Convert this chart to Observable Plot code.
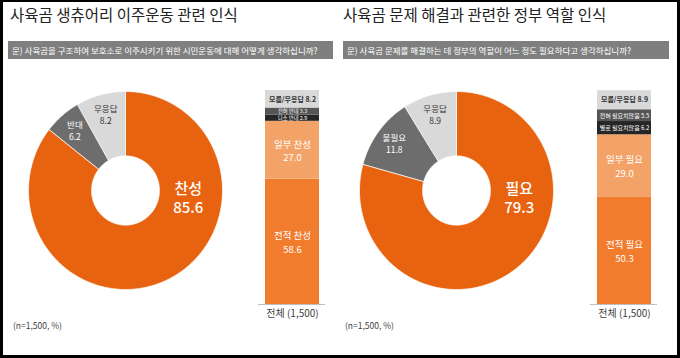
<!DOCTYPE html>
<html><head><meta charset="utf-8">
<script src="https://cdn.jsdelivr.net/npm/d3@7"></script>
<script src="https://cdn.jsdelivr.net/npm/@observablehq/plot@0.6"></script>
<style>
body{margin:0;background:#fff;}
#frame{position:relative;width:680px;height:358px;overflow:hidden;background:#fff;font-family:"Noto Sans CJK KR","Noto Sans",sans-serif;}
#border{position:absolute;left:0;top:0;width:680px;height:358px;box-sizing:border-box;border:3px solid #000;border-top-width:2px;pointer-events:none;z-index:10;}
.abs{position:absolute;}
.title{font-size:15.5px;color:#222;white-space:nowrap;line-height:1;}
.q{background:#7f7f7f;color:#fff;font-size:8.5px;line-height:18px;height:18px;white-space:nowrap;padding-left:4px;box-sizing:border-box;}
.note{font-size:8.5px;color:#404040;white-space:nowrap;line-height:1;}
svg{overflow:visible;}
</style></head>
<body>
<div id="frame"><div id="border"></div></div>
<script>
// ---- data ----
const titles = ["사육곰 생츄어리 이주운동 관련 인식", "사육곰 문제 해결과 관련한 정부 역할 인식"];
const questions = [
  "문) 사육곰을 구조하여 보호소로 이주시키기 위한 시민운동에 대해 어떻게 생각하십니까?",
  "문) 사육곰 문제를 해결하는 데 정부의 역할이 어느 정도 필요하다고 생각하십니까?"
];
const noteText = "(n=1,500, %)";
const groupLabel = "전체 (1,500)";

const donut1Labels = ["찬성", "반대", "무응답"];
const donut1Values = [85.6, 6.2, 8.2];
const donut2Labels = ["필요", "불필요", "무응답"];
const donut2Values = [79.3, 11.8, 8.9];

const bar1Labels = ["전적 찬성", "일부 찬성", "다소 반대", "전혀 반대", "모름/무응답"];
const bar1Values = [58.6, 27.0, 2.9, 3.3, 8.2];
const bar2Labels = ["전적 필요", "일부 필요", "별로 필요치않음", "전혀 필요치않음", "모름/무응답"];
const bar2Values = [50.3, 29.0, 6.2, 5.5, 8.9];

// ---- styles ----
const donutColors = ["#e8630f", "#6d6d6d", "#d9d9d9"];
const barColors = ["#f27c2e", "#f4a368", "#262626", "#555555", "#d9d9d9"];
const font = '"Noto Sans CJK KR","Noto Sans",sans-serif';

const frame = document.getElementById("frame");
function place(el, x, y) { el.style.left = x + "px"; el.style.top = y + "px"; frame.appendChild(el); return el; }
function div(cls, text) { const d = document.createElement("div"); d.className = "abs " + cls; d.textContent = text; return d; }

function donut(labels, values) {
  const arcs = d3.pie().sort(null).startAngle(0).endAngle(2 * Math.PI)(values);
  const rO = 1, rI = 0.35, pts = [];
  arcs.forEach((a, i) => {
    const n = Math.max(2, Math.ceil((a.endAngle - a.startAngle) / (Math.PI / 180)));
    for (let k = 0; k <= n; k++) { const t = a.startAngle + (a.endAngle - a.startAngle) * k / n; pts.push({key: labels[i], x: rO * Math.sin(t), y: rO * Math.cos(t)}); }
    for (let k = n; k >= 0; k--) { const t = a.startAngle + (a.endAngle - a.startAngle) * k / n; pts.push({key: labels[i], x: rI * Math.sin(t), y: rI * Math.cos(t)}); }
  });
  const small = arcs.slice(1).map((a, j) => {
    const m = (a.startAngle + a.endAngle) / 2, r = 0.8;
    return {key: labels[j + 1], x: r * Math.sin(m), y: r * Math.cos(m), text: labels[j + 1] + "\n" + values[j + 1].toFixed(1)};
  });
  const bigAngle = 96 * Math.PI / 180, bigR = 0.65;
  const big = [{x: bigR * Math.sin(bigAngle), y: bigR * Math.cos(bigAngle), text: labels[0] + "\n" + values[0].toFixed(1)}];
  return Plot.plot({
    width: 194, height: 198, margin: 0,
    x: {domain: [-1, 1], axis: null}, y: {domain: [-1, 1], axis: null},
    color: {domain: labels, range: donutColors},
    style: {fontFamily: font, background: "transparent"},
    marks: [
      Plot.line(pts, {x: "x", y: "y", z: "key", fill: "key", stroke: "#fff", strokeWidth: 0.7, curve: "linear-closed"}),
      Plot.text(small, {x: "x", y: "y", text: d => d.key === labels[2] ? d.text : null, fill: "#333", fontSize: 8.5, lineHeight: 1.4}),
      Plot.text(small, {x: "x", y: "y", text: d => d.key !== labels[2] ? d.text : null, fill: "#fff", fontSize: 8.5, lineHeight: 1.4}),
      Plot.text(big, {x: "x", y: "y", text: "text", fill: "#fff", fontSize: 15, fontWeight: 500, lineHeight: 1.32})
    ]
  });
}

function bar(labels, values, smallSize) {
  const data = labels.map((l, i) => ({group: groupLabel, label: l, value: values[i], i}));
  return Plot.plot({
    width: 87, height: 245, marginLeft: 10, marginRight: 10, marginTop: 5, marginBottom: 26,
    x: {domain: [groupLabel], padding: 0.1, label: null, tickSize: 0, tickPadding: 5},
    y: {domain: [0, 100], axis: null},
    color: {domain: labels, range: barColors},
    style: {fontFamily: font, fontSize: "10px", color: "#404040", background: "transparent"},
    marks: [
      Plot.barY(data, {x: "group", y: "value", fill: "label"}),
      Plot.ruleY([0], {stroke: "#bfbfbf"}),
      Plot.text(data, Plot.stackY({x: "group", y: "value", text: d => d.value >= 10 ? d.label + "\n" + d.value.toFixed(1) : null, fill: "#fff", fontSize: 9.5, lineHeight: 1.4})),
      Plot.text(data, Plot.stackY({x: "group", y: "value", text: d => d.value < 10 && d.i < 4 ? d.label + " " + d.value.toFixed(1) : null, fill: "#fff", fontSize: smallSize})),
      Plot.text(data, Plot.stackY({x: "group", y: "value", text: d => d.i === 4 ? d.label + " " + d.value.toFixed(1) : null, fill: "#333", fontSize: 7, fontWeight: 700}))
    ]
  });
}

// left panel
place(div("title", titles[0]), 10, 7);
const q1 = place(div("q", questions[0]), 8, 41); q1.style.width = "325px";
const d1 = place(div("", ""), 28, 91); d1.appendChild(donut(donut1Labels, donut1Values));
const b1 = place(div("", ""), 248, 85); b1.appendChild(bar(bar1Labels, bar1Values, 5.3));
place(div("note", noteText), 13, 321);

// right panel
place(div("title", titles[1]), 343, 7);
const q2 = place(div("q", questions[1]), 343, 41); q2.style.width = "326px";
const d2 = place(div("", ""), 359, 91); d2.appendChild(donut(donut2Labels, donut2Values));
const b2 = place(div("", ""), 580, 85); b2.appendChild(bar(bar2Labels, bar2Values, 6));
place(div("note", noteText), 345, 321);
</script>
</body></html>
